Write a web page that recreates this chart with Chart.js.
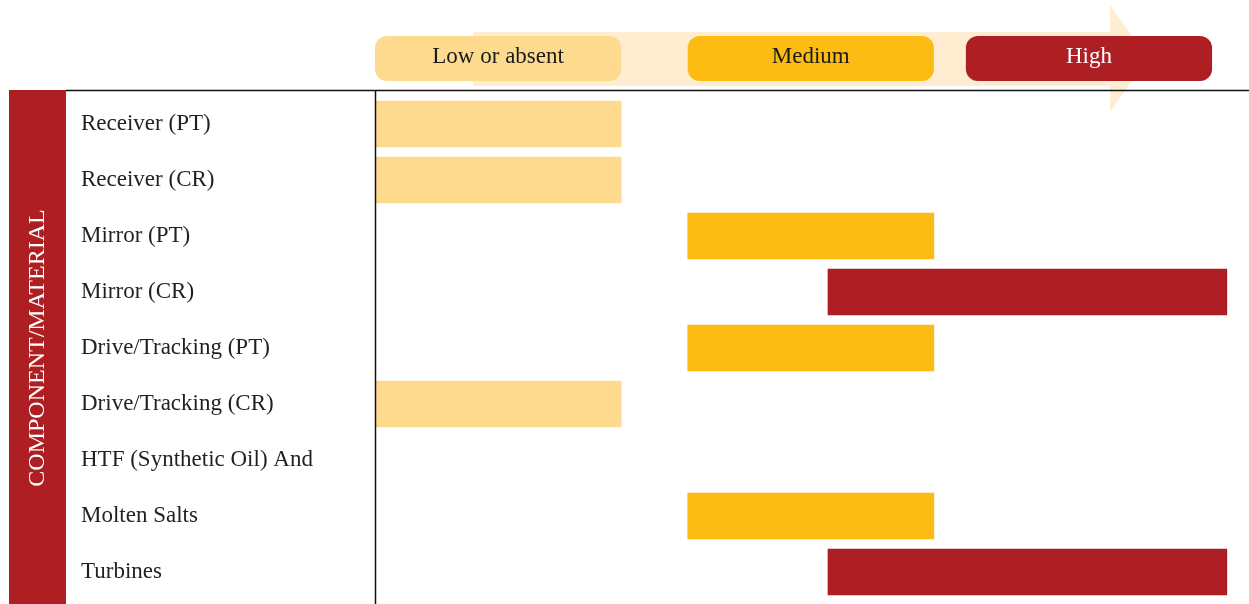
<!DOCTYPE html>
<html><head><meta charset="utf-8">
<script src="https://cdn.jsdelivr.net/npm/chart.js@4/dist/chart.umd.min.js"></script>
<style>html,body{margin:0;padding:0;background:#fff}#wrap{width:1249px;height:604px}</style>
</head><body><div id="wrap"><canvas id="c"></canvas></div>
<script>
const rowLabels = ['Receiver (PT)', 'Receiver (CR)', 'Mirror (PT)', 'Mirror (CR)', 'Drive/Tracking (PT)', 'Drive/Tracking (CR)', 'HTF (Synthetic Oil) And', 'Molten Salts', 'Turbines'];
const levelNames = ['Low or absent', 'Medium', 'High'];
const lowRange = [0, 100];
const mediumRange = [127, 227];
const highRange = [184, 346];
const legendHighRange = [240, 340];
const lowValues    = [lowRange, lowRange, null, null, null, lowRange, null, null, null];
const mediumValues = [null, null, mediumRange, null, mediumRange, null, null, mediumRange, null];
const highValues   = [null, null, null, highRange, null, null, null, null, highRange];
const axisTitle = 'COMPONENT/MATERIAL';

const COL_LOW = '#FEDA8F', COL_MED = '#FCBC13', COL_HIGH = '#AE1F24';
const FONT = '"Liberation Serif", "Times New Roman", serif';

const decor = {
  id: 'decor',
  beforeDatasetsDraw(chart) {
    const ctx = chart.ctx, xs = chart.scales.x;
    ctx.save();
    ctx.fillStyle = '#FEEDD1';
    ctx.beginPath();
    ctx.moveTo(473, 32); ctx.lineTo(1110, 32); ctx.lineTo(1110, 5);
    ctx.lineTo(1148, 58); ctx.lineTo(1110, 112); ctx.lineTo(1110, 86);
    ctx.lineTo(473, 86); ctx.closePath(); ctx.fill();
    const boxes = [
      [lowRange, COL_LOW, '#1a1a1a'],
      [mediumRange, COL_MED, '#1a1a1a'],
      [legendHighRange, COL_HIGH, '#ffffff']
    ];
    boxes.forEach((b, i) => {
      const x0 = xs.getPixelForValue(b[0][0]), x1 = xs.getPixelForValue(b[0][1]);
      ctx.fillStyle = b[1];
      ctx.beginPath();
      ctx.roundRect(x0, 36, x1 - x0, 45, 12);
      ctx.fill();
      ctx.fillStyle = b[2];
      ctx.font = '23px ' + FONT;
      ctx.textAlign = 'center'; ctx.textBaseline = 'middle';
      ctx.fillText(levelNames[i], (x0 + x1) / 2, 57);
    });
    ctx.fillStyle = COL_HIGH;
    ctx.fillRect(9, 90, 57, 514);
    ctx.translate(38, 348);
    ctx.rotate(-Math.PI / 2);
    ctx.fillStyle = '#fff';
    ctx.font = '24px ' + FONT;
    ctx.textAlign = 'center'; ctx.textBaseline = 'middle';
    ctx.fillText(axisTitle, 0, 0);
    ctx.restore();
  },
  afterDatasetsDraw(chart) {
    const ctx = chart.ctx;
    ctx.save();
    ctx.strokeStyle = '#111';
    ctx.lineWidth = 1.5;
    ctx.beginPath();
    ctx.moveTo(66, 90.5); ctx.lineTo(1249, 90.5);
    ctx.moveTo(375.5, 90); ctx.lineTo(375.5, 604);
    ctx.stroke();
    ctx.restore();
  }
};

new Chart(document.getElementById('c'), {
  type: 'bar',
  data: {
    labels: rowLabels,
    datasets: [
      { label: levelNames[0], data: lowValues, backgroundColor: COL_LOW },
      { label: levelNames[1], data: mediumValues, backgroundColor: COL_MED },
      { label: levelNames[2], data: highValues, backgroundColor: COL_HIGH }
    ]
  },
  options: {
    indexAxis: 'y',
    responsive: true,
    maintainAspectRatio: false,
    animation: false,
    datasets: { bar: { grouped: false, barThickness: 46, borderWidth: 0 } },
    layout: { padding: { left: 81, top: 96, right: 0, bottom: 4 } },
    plugins: { legend: { display: false }, tooltip: { enabled: false } },
    scales: {
      x: { type: 'linear', min: 0, max: 355, display: false },
      y: {
        grid: { display: false, drawTicks: false },
        border: { display: false },
        ticks: { crossAlign: 'far', padding: 0, color: '#231F20', font: { family: FONT, size: 23 } },
        afterFit(s) { s.width = 294; s.paddingTop = 0; s.paddingBottom = 0; }
      }
    }
  },
  plugins: [decor]
});
</script></body></html>
